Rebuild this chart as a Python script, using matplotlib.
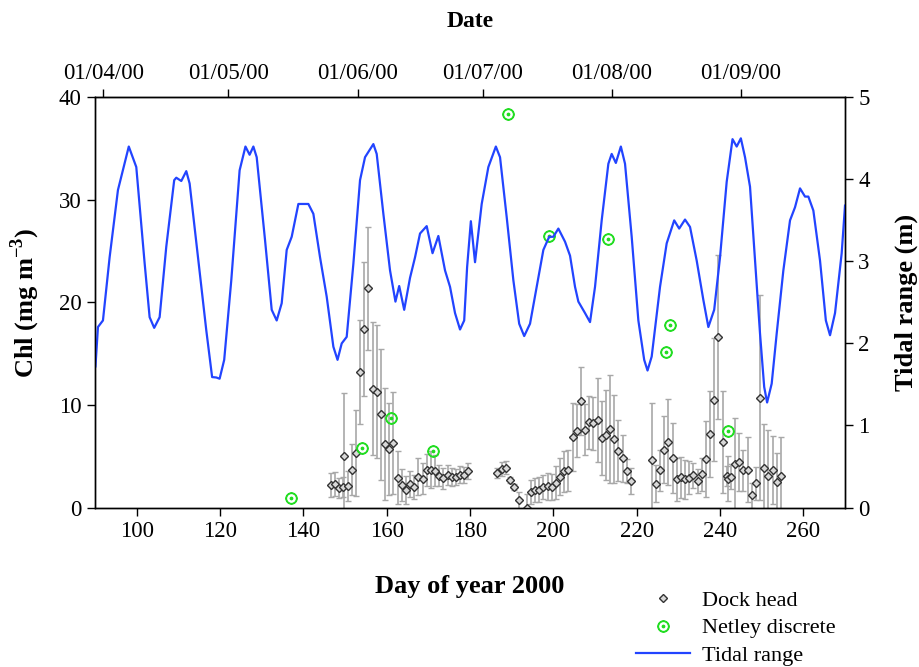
import numpy as np
import matplotlib
matplotlib.use('Agg')
import matplotlib.pyplot as plt

plt.rcParams['font.family'] = ['Liberation Serif', 'DejaVu Serif']
plt.rcParams['mathtext.fontset'] = 'custom'
plt.rcParams['mathtext.rm'] = 'Liberation Serif'
plt.rcParams['mathtext.bf'] = 'Liberation Serif:bold'

# Tidal range (m)
tide_day = [90.1, 90.7, 91.9, 93.5, 95.5, 98.1, 99.9, 101.9, 103.1, 104.2, 105.5, 107.1,
            109.0, 109.5, 110.7, 111.9, 112.7, 114.7, 116.7, 118.1, 119.1, 119.9, 121.0,
            122.7, 124.7, 126.1, 127.1, 128.0, 128.8, 130.8, 132.4, 133.6, 134.8, 136.0,
            137.2, 138.8, 141.2, 142.4, 144.0, 145.6, 147.2, 148.2, 149.2, 150.4, 152.0,
            153.6, 154.8, 156.8, 157.6, 159.2, 160.8, 162.1, 163.0, 164.2, 165.6, 166.8,
            168.0, 169.6, 171.0, 172.4, 174.0, 175.2, 176.4, 177.6, 178.6, 179.3, 180.2,
            181.2, 182.8, 184.4, 186.2, 187.2, 188.8, 190.4, 191.8, 193.0, 194.4, 196.0,
            197.6, 199.0, 200.0, 201.2, 202.8, 204.0, 205.2, 206.0, 207.6, 208.8, 210.0,
            211.6, 213.2, 214.0, 215.0, 216.2, 217.2, 218.8, 220.4, 221.8, 222.6, 223.6,
            225.6, 227.2, 229.0, 230.2, 231.6, 232.8, 234.4, 236.0, 237.2, 238.6, 240.0,
            241.6, 243.0, 244.0, 245.0, 246.0, 247.2, 248.4, 249.6, 250.6, 251.3, 252.4,
            253.6, 255.2, 256.8, 258.0, 259.2, 260.4, 261.2, 262.4, 264.0, 265.4, 266.4,
            267.6, 269.2, 270.0]
tide_m = [1.72, 2.20, 2.28, 3.05, 3.87, 4.40, 4.15, 2.98, 2.32, 2.19, 2.32, 3.18,
          3.99, 4.02, 3.98, 4.10, 3.95, 3.05, 2.16, 1.59, 1.585, 1.57, 1.80,
          2.77, 4.11, 4.40, 4.30, 4.40, 4.27, 3.26, 2.41, 2.28, 2.49, 3.14,
          3.30, 3.70, 3.70, 3.58, 3.05, 2.57, 1.96, 1.80, 2.00, 2.08, 2.97,
          3.99, 4.27, 4.43, 4.31, 3.58, 2.89, 2.51, 2.70, 2.41, 2.80, 3.05,
          3.34, 3.43, 3.10, 3.31, 2.89, 2.69, 2.37, 2.17, 2.28, 2.93, 3.49,
          2.99, 3.70, 4.15, 4.40, 4.27, 3.54, 2.77, 2.24, 2.09, 2.24, 2.69,
          3.14, 3.30, 3.30, 3.40, 3.24, 3.07, 2.69, 2.51, 2.37, 2.26, 2.69,
          3.50, 4.19, 4.31, 4.20, 4.40, 4.19, 3.30, 2.28, 1.80, 1.67, 1.84,
          2.69, 3.22, 3.50, 3.40, 3.51, 3.42, 3.01, 2.53, 2.20, 2.41, 3.05,
          3.97, 4.49, 4.40, 4.50, 4.27, 3.91, 3.01, 2.12, 1.47, 1.28, 1.51,
          2.12, 2.89, 3.50, 3.66, 3.89, 3.79, 3.79, 3.62, 3.01, 2.28, 2.10,
          2.37, 3.10, 3.68]

# Dock head chlorophyll (mean and error)
dock_day = [146.6, 147.6, 148.6, 149.4, 149.8, 150.6, 151.6, 152.6, 153.6, 154.6, 155.6,
            156.6, 157.6, 158.6, 159.6, 160.6, 161.6, 162.6, 163.6, 164.6, 165.6, 166.6,
            167.6, 168.6, 169.6, 170.6, 171.6, 172.6, 173.6, 174.6, 175.6, 176.6, 177.6,
            178.6, 179.6,
            186.5, 187.6, 188.6, 189.6, 190.6, 191.7, 193.7, 194.6, 195.6, 196.6, 197.6,
            198.6, 199.6, 200.6, 201.6, 202.6, 203.6, 204.6, 205.6, 206.6, 207.6, 208.6,
            209.6, 210.6, 211.6, 212.6, 213.6, 214.6, 215.6, 216.6, 217.6, 218.6,
            223.6, 224.6, 225.6, 226.6, 227.6, 228.6, 229.6, 230.6, 231.6, 232.6, 233.6,
            234.6, 235.6, 236.6, 237.6, 238.6, 239.6, 240.6, 241.6, 242.0, 242.6, 243.6,
            244.6, 245.6, 246.6, 247.6, 248.6, 249.6, 250.6, 251.6, 252.6, 253.6, 254.6]
dock_chl = [2.2, 2.3, 1.9, 2.0, 5.0, 2.1, 3.7, 5.35, 13.2, 17.4, 21.4,
            11.6, 11.3, 9.1, 6.2, 5.7, 6.3, 2.9, 2.2, 1.7, 2.3, 2.0,
            3.0, 2.8, 3.65, 3.7, 3.6, 3.1, 2.85, 3.15, 3.0, 2.95, 3.2,
            3.15, 3.55,
            3.4, 3.75, 3.9, 2.7, 2.0, 0.7, 0.0, 1.5, 1.7, 1.75, 2.0,
            2.05, 2.0, 2.4, 3.0, 3.55, 3.65, 6.85, 7.5, 10.4, 7.6, 8.3,
            8.2, 8.5, 6.8, 7.05, 7.65, 6.65, 5.55, 4.8, 3.55, 2.6,
            4.6, 2.3, 3.65, 5.65, 6.4, 4.8, 2.75, 2.95, 2.75, 2.9, 3.15,
            2.6, 3.25, 4.75, 7.15, 10.5, 16.6, 6.4, 3.05, 2.8, 3.0, 4.25,
            4.45, 3.65, 3.7, 1.2, 2.35, 10.7, 3.9, 3.05, 3.65, 2.5, 3.05]
dock_err = [1.2, 1.2, 1.0, 1.0, 6.2, 1.5, 2.5, 4.2, 5.1, 6.5, 6.0,
            6.5, 6.5, 6.4, 5.5, 4.5, 5.0, 2.6, 1.6, 1.4, 1.3, 1.2,
            1.8, 1.5, 1.6, 1.8, 1.5, 1.0, 1.0, 1.0, 0.9, 0.8, 0.8,
            0.8, 0.8,
            0.5, 0.7, 0.6, 0.3, 0.3, 0.8, 1.3, 1.2, 1.2, 1.2, 1.2,
            1.3, 1.3, 1.6, 1.8, 2.0, 2.0, 3.3, 2.6, 3.3, 2.5, 2.6,
            2.6, 4.1, 3.6, 4.4, 5.3, 4.3, 3.0, 2.3, 1.2, 1.3,
            5.6, 1.8, 2.0, 3.3, 4.2, 3.4, 2.1, 2.0, 1.9, 1.6, 1.2,
            1.2, 1.6, 3.7, 4.2, 6.0, 8.0, 5.0, 1.0, 2.2, 1.2, 4.5,
            2.8, 2.0, 3.2, 1.2, 1.6, 10.0, 4.2, 4.5, 3.3, 2.8, 3.8]

# Netley discrete samples
netley_day = [137.0, 154.1, 161.0, 171.1, 189.0, 199.0, 213.0, 227.0, 228.0, 242.0]
netley_chl = [0.96, 5.77, 8.75, 5.5, 38.35, 26.46, 26.2, 15.2, 17.8, 7.5]

# top axis dates (day of year 2000)
date_days = [92, 122, 153, 183, 214, 245]
date_labels = ['01/04/00', '01/05/00', '01/06/00', '01/07/00', '01/08/00', '01/09/00']

fig = plt.figure(figsize=(9.2, 6.67), dpi=100)
ax = fig.add_axes([0.1033, 0.2391, 0.8152, 0.615])
ax2 = ax.twinx()

ax.errorbar(dock_day, dock_chl, yerr=dock_err, fmt='none', ecolor='#a8a8a8',
            elinewidth=1.2, capsize=2.5, capthick=1.0, zorder=2)
ax.plot(dock_day, dock_chl, linestyle='none', marker='D', ms=3.8, mfc='#d8d8d8',
        mec='#333333', mew=1.0, label='Dock head', zorder=3)
ax.plot(netley_day, netley_chl, linestyle='none', marker='$\\odot$', ms=8,
        color='#22dd22', label='Netley discrete', zorder=4)
ax2.plot(tide_day, tide_m, color='#2244ff', lw=1.6, label='Tidal range')

ax.set_xlim(90, 270)
ax.set_ylim(0, 40)
ax2.set_ylim(0, 5)
ax.set_xticks(np.arange(100, 261, 20))
ax.set_yticks([0, 10, 20, 30, 40])
ax2.set_yticks([0, 1, 2, 3, 4, 5])

for a in (ax, ax2):
    a.tick_params(direction='out', length=6, width=1, labelsize=16.5)
    for s in a.spines.values():
        s.set_linewidth(1.0)

top = ax.secondary_xaxis('top')
top.set_xticks(date_days)
top.set_xticklabels(date_labels)
top.tick_params(direction='out', length=6, width=1, labelsize=16.5)
top.set_xlabel('Date', fontsize=17, fontweight='bold', labelpad=26)

ax.set_xlabel('Day of year 2000', fontsize=19, fontweight='bold', labelpad=24)
ax.set_ylabel('Chl (mg m$^{\\mathbf{-3}}$)', fontsize=19, fontweight='bold', labelpad=12)
ax2.set_ylabel('Tidal range (m)', fontsize=19, fontweight='bold', labelpad=18)

h1, l1 = ax.get_legend_handles_labels()
h2, l2 = ax2.get_legend_handles_labels()
fig.legend(h1 + h2, l1 + l2, loc='upper left', bbox_to_anchor=(0.682, 0.128),
           frameon=False, fontsize=16, handlelength=2.4, handletextpad=0.55,
           labelspacing=0.3, borderaxespad=0)

fig.savefig('out.png', dpi=100)
